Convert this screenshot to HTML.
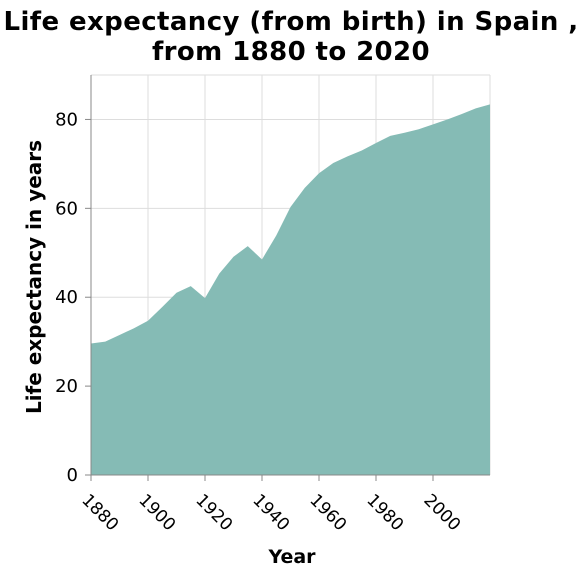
<!DOCTYPE html>
<html><head><meta charset="utf-8"><style>
body{margin:0;background:#fff;}
svg{display:block;font-family:"DejaVu Sans","Liberation Sans",sans-serif;}
</style></head><body>
<svg id="chart" width="580" height="578">
<text x="291" y="30" text-anchor="middle" font-size="26" font-weight="bold" letter-spacing="0.4">Life expectancy (from birth) in Spain ,</text>
<text x="291" y="60" text-anchor="middle" font-size="26" font-weight="bold" letter-spacing="0.4">from 1880 to 2020</text>
<g id="grid"></g>
<g id="area"></g>
<g id="axes"></g>
<text x="292" y="563" text-anchor="middle" font-size="19" font-weight="bold">Year</text>
<text transform="translate(41,277) rotate(-90)" text-anchor="middle" font-size="20" font-weight="bold">Life expectancy in years</text>
</svg>
<script>
const years=[1880,1885,1890,1895,1900,1905,1910,1915,1920,1925,1930,1935,1940,1945,1950,1955,1960,1965,1970,1975,1980,1985,1990,1995,2000,2005,2010,2015,2020];
const lifeExp=[29.6,30.0,31.5,33.0,34.7,37.8,41.0,42.5,39.8,45.3,49.1,51.5,48.5,53.9,60.3,64.6,67.9,70.2,71.7,73.0,74.7,76.3,77.0,77.8,78.9,80.0,81.2,82.5,83.4];
const xTicks=[1880,1900,1920,1940,1960,1980,2000];
const yTicks=[0,20,40,60,80];
const NS="http://www.w3.org/2000/svg";
const X0=91,X1=490,Y0=475,Y1=75;
const xs=y=>X0+(y-1880)/(2020-1880)*(X1-X0);
const ys=v=>Y0-v/90*(Y0-Y1);
function mk(t,a,p){const e=document.createElementNS(NS,t);for(const k in a)e.setAttribute(k,a[k]);p.appendChild(e);return e;}
const grid=document.getElementById('grid'),area=document.getElementById('area'),axes=document.getElementById('axes');
xTicks.concat([2020]).forEach(t=>{const l=mk('line',{x1:xs(t),x2:xs(t),y1:Y1,y2:Y0,stroke:'#ddd','stroke-width':1},grid);

});
yTicks.concat([90]).forEach(t=>{const l=mk('line',{x1:X0,x2:X1,y1:ys(t),y2:ys(t),stroke:'#ddd','stroke-width':1},grid);

});
let d='M'+xs(years[0])+','+ys(0);
years.forEach((y,i)=>{d+=' L'+xs(y)+','+ys(lifeExp[i]);});
d+=' L'+xs(years[years.length-1])+','+ys(0)+' Z';
const p=mk('path',{d:d,fill:'#85bbb5'},area);


mk('line',{x1:X0,x2:X0,y1:Y1,y2:Y0,stroke:'#888','stroke-width':1},axes);
mk('line',{x1:X0,x2:X1,y1:Y0,y2:Y0,stroke:'#888','stroke-width':1},axes);
yTicks.forEach(t=>{mk('line',{x1:X0-6,x2:X0,y1:ys(t),y2:ys(t),stroke:'#888'},axes);
const tx=mk('text',{x:X0-13,y:ys(t)+6,'text-anchor':'end','font-size':18},axes);tx.textContent=t;

});
xTicks.forEach(t=>{mk('line',{x1:xs(t),x2:xs(t),y1:Y0,y2:Y0+6,stroke:'#888'},axes);
const tx=mk('text',{transform:'translate('+(xs(t)-10)+','+(Y0+26)+') rotate(45)','font-size':17},axes);tx.textContent=t;

});
</script>
</body></html>
